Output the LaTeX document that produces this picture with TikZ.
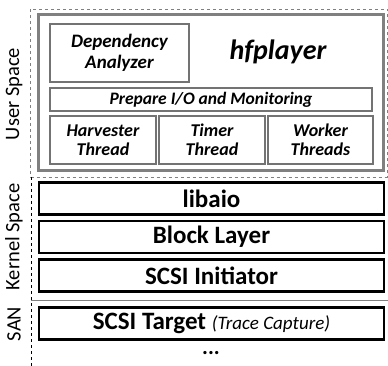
\documentclass[tikz,border=0pt]{standalone}
\usepackage{fontspec}
\setmainfont{Carlito}
\begin{document}
\begin{tikzpicture}[x=1pt,y=-1pt]
\tikzstyle{caixa}=[draw=black!55, line width=1.2pt, inner sep=0, align=center, font=\bfseries\itshape\fontsize{18}{19.5}\selectfont]
\tikzstyle{camada}=[draw=black, line width=2.6pt, inner sep=0, minimum width=345pt, minimum height=32pt, font=\bfseries\fontsize{25}{27}\selectfont]
\tikzstyle{rotulo}=[rotate=90, font=\fontsize{20.5}{22}\selectfont]
\useasboundingbox(0,0)rectangle(388,366);
\draw[dashed, black!50, line width=.8pt](30.5,9)rectangle(387,177);
\draw[dashed, line width=.8pt](31,177)--(31,366);
\draw[black!50, line width=.8pt](31,300.5)--(388,300.5);
\node[draw=black!50, line width=3pt, minimum width=345pt, minimum height=156pt](hf)at(210.5,93){};
\node[caixa, minimum width=139pt, minimum height=58pt, font=\bfseries\itshape\fontsize{19}{20.5}\selectfont](dep)at(119.5,53){Dependency\\Analyzer};
\node[font=\bfseries\itshape\fontsize{28}{30}\selectfont](nome)at(278,52){hfplayer};
\node[caixa, minimum width=322pt, minimum height=23pt, font=\bfseries\itshape\fontsize{17.5}{19}\selectfont](prep)at(211,99.5){Prepare I/O and Monitoring};
\node[caixa, minimum width=106pt, minimum height=48pt](harv)at(103,140){Harvester\\Thread};
\node[caixa, minimum width=106pt, minimum height=48pt](timer)at(212,140){Timer\\Thread};
\node[caixa, minimum width=105pt, minimum height=48pt](work)at(320.5,140){Worker\\Threads};
\node[camada](aio)at(211.5,198.5){libaio};
\node[camada](bloco)at(211.5,237){Block Layer};
\node[camada](ini)at(211.5,275.5){SCSI Initiator};
\node[camada](alvo)at(211.5,323.5){SCSI Target {\mdseries\itshape\fontsize{19}{21}\selectfont(Trace Capture)}};
\node[font=\bfseries\fontsize{22}{24}\selectfont](pts)at(211,353){...};
\node[rotulo](us)at(14,94){User Space};
\node[rotulo](ks)at(14,237){Kernel Space};
\node[rotulo](san)at(14,324){SAN};
\end{tikzpicture}
\end{document}
